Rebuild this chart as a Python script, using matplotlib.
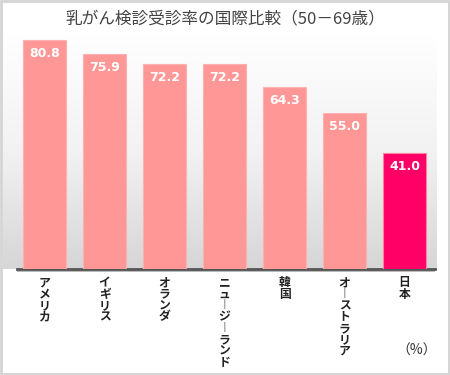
import numpy as np
import matplotlib
matplotlib.use("Agg")
import matplotlib.pyplot as plt
from matplotlib.patches import Rectangle
from matplotlib.colors import LinearSegmentedColormap

plt.rcParams['font.family'] = ['Noto Sans CJK JP', 'DejaVu Sans']

countries = ["アメリカ", "イギリス", "オランダ", "ニュージーランド", "韓国", "オーストラリア", "日本"]
rates = [80.8, 75.9, 72.2, 72.2, 64.3, 55.0, 41.0]
bar_colors = ["#ff9797"] * 6 + ["#ff0066"]
edge_colors = ["#ffb0b0"] * 6 + ["#ff80a0"]

title = "乳がん検診受診率の国際比較（50－69歳）"
unit = "（%）"

fig = plt.figure(figsize=(4.5, 3.75), dpi=100)
W, H = 450, 375

def fx(px):
    return px / W

def fy(py):
    return 1 - py / H

# background gradient panel
bg = fig.add_axes([fx(3), fy(269), fx(434), fy(35) - fy(269)], zorder=0)
cmap = LinearSegmentedColormap.from_list("g", ["#ffffff", "#f2f2f2", "#d6d6d6"])
grad = np.linspace(0, 1, 256).reshape(-1, 1)
bg.imshow(grad, aspect="auto", cmap=cmap, extent=[0, 1, 0, 1], origin="upper")
bg.axis("off")

# main axes
ax = fig.add_axes([fx(17), fy(269), fx(418), fy(30) - fy(269)], zorder=2)
ax.patch.set_alpha(0)
x = np.arange(len(countries))
ax.bar(x, rates, width=0.72, color=bar_colors, edgecolor=edge_colors, linewidth=0.8, zorder=3)
ax.set_xlim(-0.458, 6.508)
ax.set_ylim(0, 84.3)
for s in ["top", "right", "left"]:
    ax.spines[s].set_visible(False)
ax.spines["bottom"].set_color("#555555")
ax.spines["bottom"].set_linewidth(2)
ax.set_xticks([])
ax.set_yticks([])

for xi, v in zip(x, rates):
    ax.text(xi, v - 2.4, f"{v:.1f}", ha="center", va="top", color="white",
            fontsize=9, fontweight="bold", family="DejaVu Sans", zorder=4)

for xi, name in zip(x, countries):
    vert = "\n".join("︱" if c == "ー" else c for c in name)
    ax.text(xi, -2.6, vert, ha="center", va="top", fontsize=8.5, fontweight="bold",
            color="#222222", linespacing=0.84, clip_on=False)

# baseline shadow
fig.add_artist(Rectangle((fx(17), fy(272)), fx(418), fy(269) - fy(272),
                         facecolor="#bbbbbb", edgecolor="none", zorder=1))

fig.text(0.5, fy(20), title, ha="center", va="center", fontsize=12, color="#444444")
fig.text(fx(417), fy(351), unit, ha="center", va="center", fontsize=10, color="#333333")

# outer frame
fig.add_artist(Rectangle((0.002, 0.002), 0.996, 0.996, transform=fig.transFigure,
                         facecolor="none", edgecolor="#d4d4d4", linewidth=2, zorder=5))

fig.savefig("out.png", dpi=100, facecolor="white")
